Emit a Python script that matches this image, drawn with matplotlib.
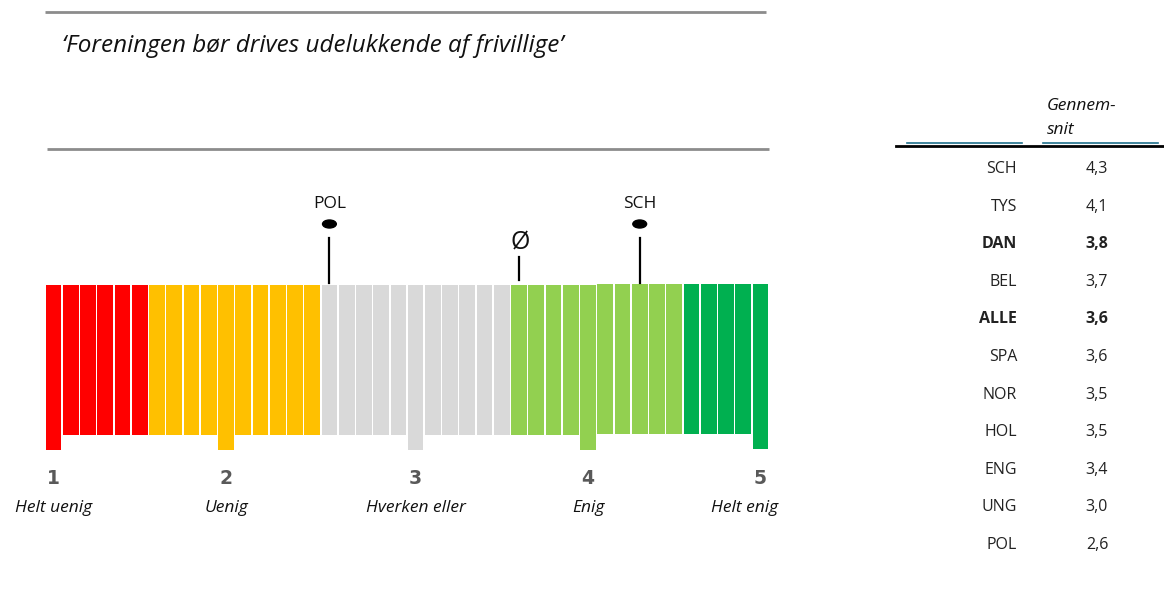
import matplotlib
matplotlib.use("Agg")
import matplotlib.pyplot as plt
from matplotlib.patches import Ellipse

plt.rcParams["font.family"] = ["Open Sans", "DejaVu Sans"]

# --- data -------------------------------------------------------------------
QUESTION = "\u2018Foreningen bør drives udelukkende af frivillige\u2019"
SCALE_NUMBERS = ["1", "2", "3", "4", "5"]
SCALE_LABELS = ["Helt uenig", "Uenig", "Hverken eller", "Enig", "Helt enig"]

# colour bands of the scale, counted in thin bars (one bar = 0.1 point)
BAND_COLORS = ["#FF0000", "#FFC000", "#D9D9D9", "#92D050", "#00B050"]
BAND_BARS = [6, 10, 11, 10, 5]

MARKER_LABELS = ["POL", "SCH"]
MARKER_VALUES = [2.6, 4.3]
AVERAGE = 3.6

COUNTRIES = ["SCH", "TYS", "DAN", "BEL", "ALLE", "SPA", "NOR", "HOL", "ENG", "UNG", "POL"]
MEANS = [4.3, 4.1, 3.8, 3.7, 3.6, 3.6, 3.5, 3.5, 3.4, 3.0, 2.6]
BOLD_ROWS = {"DAN", "ALLE"}


def pos(v):
    # bar index of a score; the original scale has one extra bar between 2 and 3
    return round((v - 1) * 10) + (1 if v >= 3 else 0)


W, H = 1164, 600
fig = plt.figure(figsize=(W / 100, H / 100), dpi=100)

bg = fig.add_axes([0, 0, 1, 1])
bg.set_xlim(0, W); bg.set_ylim(H, 0); bg.axis("off")

ax = fig.add_axes([45 / W, 0, 724 / W, 1])
ax.set_xlim(-0.5, 41.5); ax.set_ylim(H, 0); ax.axis("off")
ax.patch.set_visible(False)

# --- question block ---------------------------------------------------------
bg.plot([45, 766], [12, 12], color="#8C8C8C", lw=2, solid_capstyle="butt")
bg.plot([47, 769], [149, 149], color="#8C8C8C", lw=2, solid_capstyle="butt")
bg.text(62, 46, QUESTION, fontsize=17.5, style="italic", va="center", ha="left",
        color="#111111")

# --- scale bars -------------------------------------------------------------
long_idx = [pos(v) for v in range(1, 6)]
i = 0
for color, n in zip(BAND_COLORS, BAND_BARS):
    for _ in range(n):
        top = 283.7 if i > long_idx[3] else 285
        bottom = (450 if i in long_idx else 435) - (1.5 if i > long_idx[3] else 0)
        ax.bar(i, bottom - top, bottom=top, width=0.91, color=color, linewidth=0)
        i += 1

for k, x in enumerate(long_idx):
    ax.text(x, 479, SCALE_NUMBERS[k], fontsize=13.5, fontweight="heavy",
            color="#595959", ha="center", va="center", family="DejaVu Sans")
    shift = -0.9 if k == 4 else 0
    ax.text(x + shift, 508, SCALE_LABELS[k], fontsize=12.5, style="italic",
            ha="center", va="center", color="#111111")

# country markers
for lab, v in zip(MARKER_LABELS, MARKER_VALUES):
    x = pos(v)
    ax.plot([x, x], [238, 283], color="black", lw=1.6)
    ax.add_patch(Ellipse((x, 224), 0.8, 8, color="black"))
    ax.text(x, 204, lab, fontsize=12.5, ha="center", va="center", color="#111111")

# average
xa = pos(AVERAGE)
ax.plot([xa, xa], [257, 280], color="black", lw=1.6)
ax.text(xa + 0.05, 243, "Ø", fontsize=18, ha="center", va="center", color="#111111")

# --- table of means ---------------------------------------------------------
bg.text(1047, 106, "Gennem-", fontsize=12.5, style="italic", ha="left", va="center",
        color="#111111")
bg.text(1047, 130, "snit", fontsize=12.5, style="italic", ha="left", va="center",
        color="#111111")
bg.plot([907, 1022], [143, 143], color="#1F6F8B", lw=1.2)
bg.plot([1043, 1158], [143, 143], color="#1F6F8B", lw=1.2)
bg.plot([896, 1164], [146, 146], color="black", lw=2)

for r, (c, m) in enumerate(zip(COUNTRIES, MEANS)):
    y = 169 + r * 37.6
    w = "bold" if c in BOLD_ROWS else "normal"
    bg.text(1017, y, c, fontsize=11.5, fontweight=w, ha="right", va="center",
            color="#222222")
    bg.text(1097, y, ("%.1f" % m).replace(".", ","), fontsize=11.5, fontweight=w,
            ha="center", va="center", color="#222222")

fig.savefig("out.png", dpi=100)
